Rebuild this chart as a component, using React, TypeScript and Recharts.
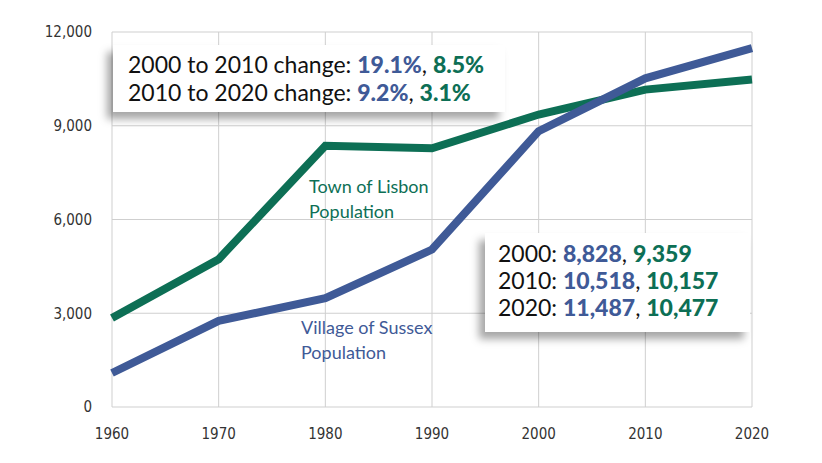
import { LineChart, Line, XAxis, YAxis, CartesianGrid } from 'recharts';

const years = [1960, 1970, 1980, 1990, 2000, 2010, 2020];
const sussex = [1087, 2758, 3482, 5039, 8828, 10518, 11487];
const lisbon = [2850, 4730, 8360, 8280, 9359, 10157, 10477];

const yTicks = [0, 3000, 6000, 9000, 12000];
const changeRows = [
  { label: '2000 to 2010 change: ', a: '19.1%', b: '8.5%' },
  { label: '2010 to 2020 change: ', a: '9.2%', b: '3.1%' },
];
const valueRows = [
  { label: '2000: ', a: '8,828', b: '9,359' },
  { label: '2010: ', a: '10,518', b: '10,157' },
  { label: '2020: ', a: '11,487', b: '10,477' },
];

const BLUE = '#3f5a97';
const GREEN = '#0d6f55';
const TICK_FONT = '"Liberation Sans Narrow", "DejaVu Sans Condensed", sans-serif';

const data = years.map((year, i) => ({ year, sussex: sussex[i], lisbon: lisbon[i] }));

const boxStyle: React.CSSProperties = {
  position: 'absolute',
  background: '#fff',
  boxShadow: '-6px 7px 8px rgba(0,0,0,0.35)',
  fontFamily: 'Lato, sans-serif',
  fontSize: 23,
  lineHeight: '27px',
  color: '#111',
  whiteSpace: 'nowrap',
};

function Rows({ rows }: { rows: { label: string; a: string; b: string }[] }) {
  return (
    <>
      {rows.map((r) => (
        <div key={r.label}>
          {r.label}
          <b style={{ color: BLUE, fontWeight: 900 }}>{r.a}</b>,{' '}
          <b style={{ color: GREEN, fontWeight: 900 }}>{r.b}</b>
        </div>
      ))}
    </>
  );
}

export default function App() {
  return (
    <div style={{ position: 'absolute', left: 0, top: 0, width: 822, height: 463, background: '#fff' }}>
      <LineChart width={822} height={463} data={data} margin={{ top: 32, right: 70, bottom: 26, left: 0 }}>
        <CartesianGrid stroke="#cfcfcf" strokeWidth={1} />
        <XAxis
          dataKey="year"
          type="number"
          domain={[1960, 2020]}
          ticks={years}
          height={30}
          axisLine={false}
          tickLine={false}
          tickSize={0}
          tickMargin={21}
          tick={{ fill: '#333', fontSize: 15, fontFamily: TICK_FONT }}
        />
        <YAxis
          width={112}
          domain={[0, 12000]}
          ticks={yTicks}
          axisLine={false}
          tickLine={false}
          tickSize={0}
          tickMargin={20}
          tickFormatter={(v: number) => v.toLocaleString('en-US')}
          tick={{ fill: '#333', fontSize: 15, fontFamily: TICK_FONT }}
        />
        <Line dataKey="lisbon" stroke={GREEN} strokeWidth={8} dot={false} isAnimationActive={false} strokeLinejoin="miter" />
        <Line dataKey="sussex" stroke={BLUE} strokeWidth={8} dot={false} isAnimationActive={false} strokeLinejoin="miter" />
      </LineChart>

      <div style={{ ...boxStyle, left: 113, top: 45, width: 377, height: 62, padding: '5px 0 0 15px', lineHeight: '28px' }}>
        <Rows rows={changeRows} />
      </div>
      <div style={{ ...boxStyle, left: 485, top: 233, width: 252, height: 92, padding: '7px 0 0 13px' }}>
        <Rows rows={valueRows} />
      </div>

      <div style={{ position: 'absolute', left: 309, top: 174, fontFamily: 'Lato, sans-serif', fontSize: 18, lineHeight: '25px', color: GREEN }}>
        Town of Lisbon
        <br />
        Population
      </div>
      <div style={{ position: 'absolute', left: 301, top: 315, fontFamily: 'Lato, sans-serif', fontSize: 18, lineHeight: '25px', color: BLUE }}>
        Village of Sussex
        <br />
        Population
      </div>
    </div>
  );
}
